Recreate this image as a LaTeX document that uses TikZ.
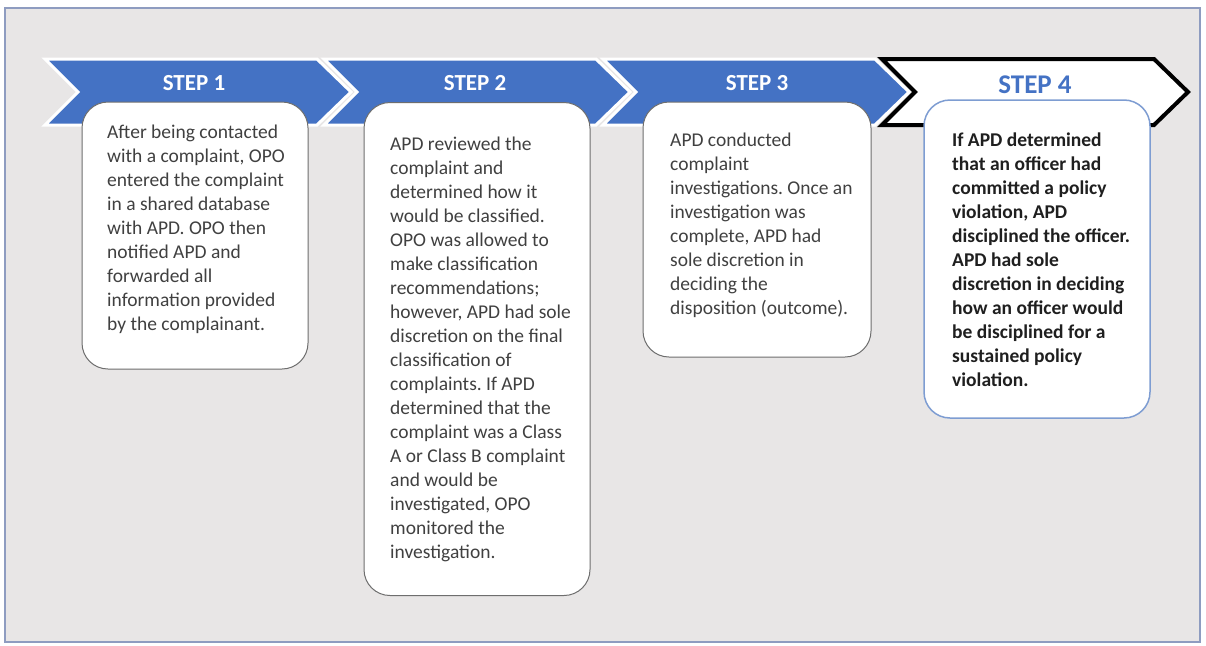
\documentclass[tikz,border=0pt]{standalone}
\usepackage{fontspec}
\setmainfont{Carlito}
\frenchspacing
\definecolor{bg}{HTML}{E8E6E6}
\definecolor{frame}{HTML}{8E9CC0}
\definecolor{stepblue}{HTML}{4472C4}
\definecolor{boxline}{HTML}{6E6E6E}
\definecolor{box4line}{HTML}{7E9DD2}
\definecolor{bodytext}{HTML}{404040}
\definecolor{boldtext}{HTML}{1F1F1F}
\tikzset{
  chevblue/.style={fill=stepblue, draw=white, line width=3pt, line join=miter},
  chevlast/.style={fill=white, draw=black, line width=4pt, line join=miter},
  steplabel/.style={font=\bfseries\fontsize{23}{26}\selectfont, text=white, inner sep=0pt, anchor=base},
  stepbox/.style={draw=boxline, fill=white, line width=1pt, rounded corners=26pt, inner sep=0pt},
  stepboxlast/.style={draw=box4line, fill=white, line width=1.5pt, rounded corners=26pt, inner sep=0pt},
  bodytxt/.style={inner sep=0pt, anchor=base west, text=bodytext},
}
\newcommand{\boxtext}[1]{\begin{minipage}[t]{260pt}\fontsize{19.5}{24}\selectfont\raggedright\frenchspacing #1\end{minipage}}
\begin{document}
\begin{tikzpicture}[x=1pt,y=-1pt]
\useasboundingbox (0,0) rectangle (1206,645);
\fill[white] (0,0) rectangle (1206,645);
\fill[bg] (5,8) rectangle (1200,642);
\draw[frame, line width=1.2pt] (5,8) rectangle (1200,642);
% chevrons
\foreach \xa in {45,324,603}{
  \path[chevblue] (\xa,59) -- ({\xa+272},59) -- ({\xa+306},92) -- ({\xa+272},125) -- (\xa,125) -- ({\xa+33},92) -- cycle;
}
\path[chevlast] (882,59) -- (1154,59) -- (1188,92) -- (1154,125) -- (882,125) -- (915,92) -- cycle;
% step labels
\node[steplabel] (s1) at (194,90) {STEP 1};
\node[steplabel] (s2) at (475,90) {STEP 2};
\node[steplabel] (s3) at (757,90) {STEP 3};
\node[steplabel, text=stepblue, font=\bfseries\fontsize{27}{30}\selectfont] (s4) at (1035,93) {STEP 4};
% boxes
\node[stepbox, minimum width=226pt, minimum height=267pt] (b1) at (195,235.5) {};
\node[stepbox, minimum width=226pt, minimum height=493pt] (b2) at (477,349) {};
\node[stepbox, minimum width=228pt, minimum height=255pt] (b3) at (757,229.5) {};
\node[stepboxlast, minimum width=226pt, minimum height=318pt] (b4) at (1037,259) {};
% texts
\node[bodytxt] (t1) at (107,138) {\boxtext{After being contacted\\
with a complaint, OPO\\
entered the complaint\\
in a shared database\\
with APD. OPO then\\
notified APD and\\
forwarded all\\
information provided\\
by the complainant.}};
\node[bodytxt] (t2) at (390,150) {\boxtext{APD reviewed the\\
complaint and\\
determined how it\\
would be classified.\\
OPO was allowed to\\
make classification\\
recommendations;\\
however, APD had sole\\
discretion on the final\\
classification of\\
complaints. If APD\\
determined that the\\
complaint was a Class\\
A or Class B complaint\\
and would be\\
investigated, OPO\\
monitored the\\
investigation.}};
\node[bodytxt] (t3) at (670,146) {\boxtext{APD conducted\\
complaint\\
investigations. Once an\\
investigation was\\
complete, APD had\\
sole discretion in\\
deciding the\\
disposition (outcome).}};
\node[bodytxt, text=boldtext] (t4) at (952,146) {\boxtext{\bfseries If APD determined\\
that an officer had\\
committed a policy\\
violation, APD\\
disciplined the officer.\\
APD had sole\\
discretion in deciding\\
how an officer would\\
be disciplined for a\\
sustained policy\\
violation.}};
\end{tikzpicture}
\end{document}
